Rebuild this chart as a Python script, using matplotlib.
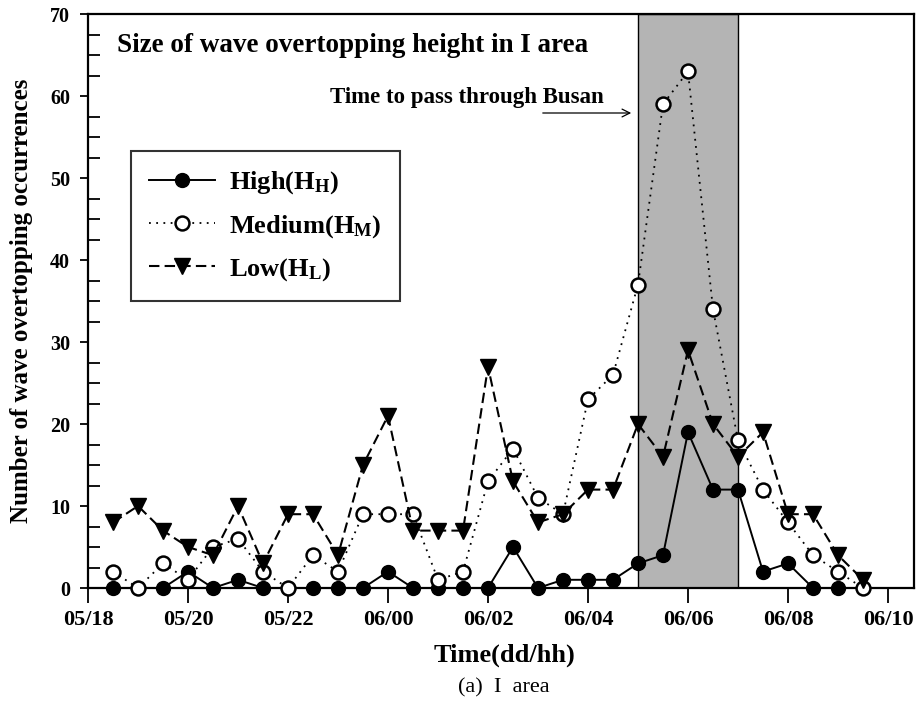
import matplotlib
matplotlib.use("Agg")
import matplotlib.pyplot as plt
from matplotlib.ticker import MultipleLocator

plt.rcParams['font.family'] = ['Liberation Serif', 'DejaVu Serif']
plt.rcParams['mathtext.fontset'] = 'custom'
plt.rcParams['mathtext.rm'] = 'Liberation Serif:bold'
plt.rcParams['mathtext.bf'] = 'Liberation Serif:bold'
plt.rcParams['mathtext.it'] = 'Liberation Serif:bold'

# ---- data (hours after 05/18, half-hour steps) ----
time_mid_low = [0.5, 1.0, 1.5, 2.0, 2.5, 3.0, 3.5, 4.0, 4.5, 5.0, 5.5, 6.0, 6.5, 7.0, 7.5,
                8.0, 8.5, 9.0, 9.5, 10.0, 10.5, 11.0, 11.5, 12.0, 12.5, 13.0, 13.5, 14.0,
                14.5, 15.0, 15.5]
time_high = [0.5, 1.0, 1.5, 2.0, 2.5, 3.0, 3.5, 4.0, 4.5, 5.0, 5.5, 6.0, 6.5, 7.0, 7.5,
             8.0, 8.5, 9.0, 9.5, 10.0, 10.5, 11.0, 11.5, 12.0, 12.5, 13.0, 13.5, 14.0,
             14.5, 15.0]
high = [0, 0, 0, 2, 0, 1, 0, 0, 0, 0, 0, 2, 0, 0, 0,
        0, 5, 0, 1, 1, 1, 3, 4, 19, 12, 12, 2, 3, 0, 0]
medium = [2, 0, 3, 1, 5, 6, 2, 0, 4, 2, 9, 9, 9, 1, 2,
          13, 17, 11, 9, 23, 26, 37, 59, 63, 34, 18, 12, 8, 4, 2, 0]
low = [8, 10, 7, 5, 4, 10, 3, 9, 9, 4, 15, 21, 7, 7, 7,
       27, 13, 8, 9, 12, 12, 20, 16, 29, 20, 16, 19, 9, 9, 4, 1]

tick_pos = [0, 2, 4, 6, 8, 10, 12, 14, 16]
tick_labels = ['05/18', '05/20', '05/22', '06/00', '06/02', '06/04', '06/06', '06/08', '06/10']
busan_span = [11, 13]

W, H = 923, 704
fig = plt.figure(figsize=(W / 100, H / 100), dpi=100)
ax = fig.add_axes([88 / W, 1 - 588 / H, (914 - 88) / W, 574 / H])

ax.axvspan(busan_span[0], busan_span[1], facecolor='#b4b4b4', edgecolor='black',
           linewidth=1.0, zorder=1)

ax.plot(time_high, high, '-', color='black', lw=1.4, marker='o', ms=10,
        mfc='black', mec='black', label=r'High(H$_\mathrm{H}$)', zorder=3, clip_on=False)
ax.plot(time_mid_low, medium, color='black', lw=1.3, ls=(0, (1, 3)), marker='o', ms=10,
        mfc='white', mec='black', mew=1.8, label=r'Medium(H$_\mathrm{M}$)', zorder=4,
        clip_on=False)
ax.plot(time_mid_low, low, color='black', lw=1.5, ls=(0, (5, 2.5)), marker='v', ms=12,
        mfc='black', mec='black', label=r'Low(H$_\mathrm{L}$)', zorder=5, clip_on=False)

ax.set_xlim(0, 16.52)
ax.set_ylim(0, 70)
ax.set_xticks(tick_pos)
ax.set_xticklabels(tick_labels)
ax.yaxis.set_major_locator(MultipleLocator(10))
ax.yaxis.set_minor_locator(MultipleLocator(2.5))
ax.tick_params(axis='x', which='major', direction='out', length=11, width=1.3,
               pad=5, labelsize=16)
ax.tick_params(axis='y', which='major', direction='out', length=6, width=1.3,
               pad=7, labelsize=14.5)
ax.tick_params(axis='y', which='minor', direction='in', length=8.5, width=1.3)
for lab in ax.get_xticklabels() + ax.get_yticklabels():
    lab.set_fontweight('bold')
for sp in ax.spines.values():
    sp.set_linewidth(1.6)

leg = ax.legend(loc='upper left', bbox_to_anchor=((131 - 88) / 826, (588 - 151) / 574),
                borderaxespad=0, frameon=True, fancybox=False, edgecolor='black',
                prop={'weight': 'bold', 'size': 19}, handlelength=2.5, handletextpad=0.5,
                labelspacing=0.62, borderpad=0.7)
leg.get_frame().set_linewidth(1.5)

fig.text(117 / W, 1 - 52 / H, 'Size of wave overtopping height in I area',
         fontsize=19.5, fontweight='bold', ha='left', va='baseline')
fig.text(330 / W, 1 - 103 / H, 'Time to pass through Busan',
         fontsize=16.5, fontweight='bold', ha='left', va='baseline')
ax.annotate('', xy=(634 / W, 1 - 113 / H), xytext=(540 / W, 1 - 113 / H),
            xycoords='figure fraction', textcoords='figure fraction',
            arrowprops=dict(arrowstyle='->', lw=0.9, color='black', mutation_scale=14))

fig.text(22 / W, 1 - 301 / H, 'Number of wave overtopping occurrences',
         fontsize=18, fontweight='bold', rotation=90, ha='center', va='center')
fig.text(504 / W, 1 - 655 / H, 'Time(dd/hh)', fontsize=19, fontweight='bold',
         ha='center', va='center')
fig.text(504 / W, 1 - 688 / H, '(a)  I  area', fontsize=16, ha='center', va='center')

fig.savefig('out.png', dpi=100)
